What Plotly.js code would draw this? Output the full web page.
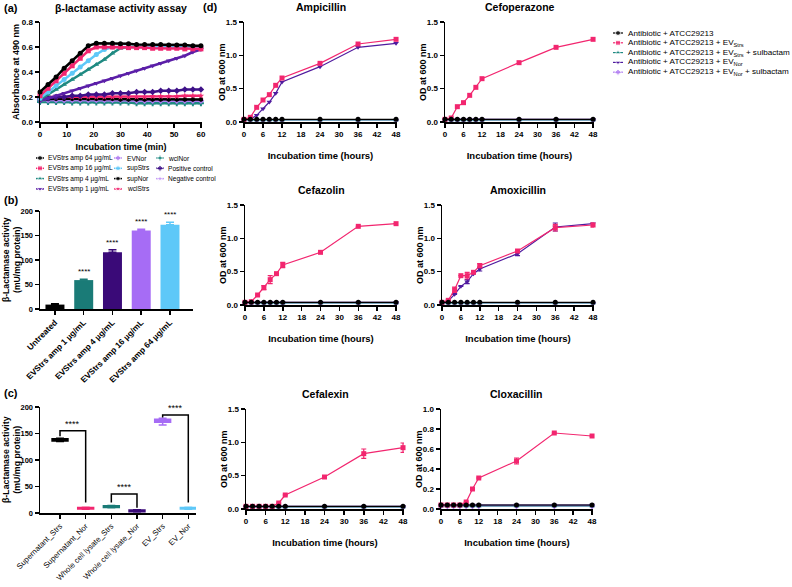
<!DOCTYPE html>
<html><head><meta charset="utf-8">
<script src="https://cdn.plot.ly/plotly-3.0.1.min.js"></script>
<style>html,body{margin:0;padding:0;background:#fff}</style>
</head><body><div id="chart" style="width:792px;height:587px"></div>
<script>
// ================= DATA =================
// Panel (a): beta-lactamase activity assay (absorbance at 490 nm vs time)
const timeMin = [0,3,6,9,12,15,18,21,24,27,30,33,36,39,42,45,48,51,54,57,60];
const evStrs64 = [0.24,0.30,0.36,0.43,0.49,0.55,0.61,0.63,0.63,0.63,0.625,0.625,0.62,0.62,0.62,0.62,0.615,0.615,0.615,0.61,0.61];
const evStrs16 = [0.21,0.27,0.33,0.39,0.45,0.51,0.57,0.60,0.60,0.60,0.60,0.595,0.595,0.595,0.59,0.59,0.59,0.59,0.585,0.585,0.585];
const evStrs4  = [0.18,0.22,0.26,0.30,0.34,0.38,0.42,0.46,0.50,0.55,0.59,0.60,0.60,0.60,0.60,0.60,0.60,0.60,0.60,0.60,0.60];
const evStrs1  = [0.17,0.19,0.21,0.23,0.25,0.27,0.29,0.31,0.33,0.35,0.37,0.39,0.41,0.43,0.45,0.47,0.49,0.51,0.53,0.56,0.58];
const evNor    = [0.175,0.175,0.175,0.175,0.175,0.175,0.175,0.175,0.175,0.175,0.175,0.175,0.17,0.17,0.17,0.17,0.17,0.17,0.17,0.17,0.17];
const supStrs  = [0.19,0.24,0.29,0.34,0.39,0.44,0.49,0.54,0.58,0.60,0.60,0.60,0.60,0.60,0.60,0.60,0.60,0.60,0.60,0.60,0.60];
const supNor   = [0.18,0.185,0.185,0.185,0.185,0.185,0.185,0.185,0.185,0.185,0.18,0.18,0.18,0.18,0.18,0.18,0.18,0.18,0.18,0.18,0.18];
const wclStrs  = [0.20,0.20,0.20,0.20,0.20,0.20,0.20,0.20,0.20,0.20,0.20,0.20,0.20,0.20,0.205,0.205,0.205,0.205,0.21,0.21,0.21];
const wclNor   = [0.16,0.16,0.16,0.16,0.155,0.155,0.155,0.155,0.155,0.155,0.155,0.155,0.15,0.15,0.15,0.15,0.15,0.15,0.15,0.15,0.15];
const posCtrl  = [0.19,0.19,0.20,0.20,0.21,0.21,0.22,0.22,0.22,0.23,0.23,0.23,0.24,0.24,0.24,0.25,0.25,0.25,0.26,0.26,0.26];
const negCtrl  = [0.165,0.165,0.165,0.165,0.165,0.165,0.165,0.165,0.16,0.16,0.16,0.16,0.16,0.16,0.16,0.16,0.16,0.16,0.16,0.16,0.16];
const aNames = ['EVStrs amp 64 µg/mL','EVStrs amp 16 µg/mL','EVStrs amp 4 µg/mL','EVStrs amp 1 µg/mL',
                'EVNor','supStrs','supNor','wclStrs','wclNor','Positive control','Negative control'];

// Panel (b): beta-lactamase activity of EVs
const bCats = ['Untreated','EVStrs amp 1 µg/mL','EVStrs amp 4 µg/mL','EVStrs amp 16 µg/mL','EVStrs amp 64 µg/mL'];
const bVals = [9, 59, 116, 160, 172];
const bErr  = [1.5, 1.5, 5, 3, 5];
const bSig  = ['', '****', '****', '****', '****'];

// Panel (c): beta-lactamase activity by fraction
const cCats = ['Supernatant_Strs','Supernatant_Nor','Whole cell lysate_Strs','Whole cell lysate_Nor','EV_Strs','EV_Nor'];
const cMed = [138, 9, 12, 4, 174, 9];
const cQ1  = [136, 7.5, 10.5, 2.5, 171, 7.5];
const cQ3  = [140, 10.5, 13.5, 5.5, 177, 10.5];
const cLo  = [135, 7, 10, 2, 166, 7];
const cHi  = [141, 11, 14, 6, 179, 11];
const cPairs = [[0,1],[2,3],[4,5]];
const cPairTop = [155, 36, 185];
const cPairLegs = [[145, 20], [20, 10], [180, 20]];

// Panel (d): OD600 growth curves
const timeH = [0,2,4,6,8,10,12,24,36,48];
const dNames = ['Antibiotic + ATCC29213','Antibiotic + ATCC29213 + EV<sub>Strs</sub>',
  'Antibiotic + ATCC29213 + EV<sub>Strs</sub> + sulbactam','Antibiotic + ATCC29213 + EV<sub>Nor</sub>',
  'Antibiotic + ATCC29213 + EV<sub>Nor</sub> + sulbactam'];
const flat04 = [0.04,0.04,0.04,0.04,0.04,0.04,0.04,0.04,0.04,0.04];
const flat03 = [0.03,0.03,0.03,0.03,0.03,0.03,0.03,0.03,0.03,0.03];
const ampStrs = [0.04,0.07,0.22,0.33,0.41,0.55,0.66,0.88,1.17,1.24];
const ampNor  = [0.04,0.04,0.10,0.20,0.30,0.43,0.60,0.83,1.12,1.18];
const cfpStrs = [0.04,0.06,0.23,0.29,0.40,0.52,0.65,0.89,1.12,1.24];
const czoStrs = [0.04,0.05,0.15,0.26,0.38,0.47,0.60,0.79,1.18,1.22];
const czoStrsErr = [0,0,0,0.03,0.06,0,0.04,0,0,0];
const amxStrs = [0.04,0.07,0.23,0.44,0.44,0.49,0.59,0.81,1.16,1.20];
const amxStrsErr = [0,0,0.04,0,0.05,0,0.03,0,0.05,0.03];
const amxNor  = [0.04,0.06,0.16,0.28,0.35,0.47,0.54,0.77,1.17,1.22];
const amxNorErr = [0,0,0,0,0.03,0,0.03,0.03,0.06,0];
const lexStrs = [0.04,0.04,0.04,0.04,0.04,0.09,0.21,0.48,0.83,0.92];
const lexStrsErr = [0,0,0,0,0,0,0,0,0.07,0.07];
const cloStrs = [0.04,0.04,0.04,0.04,0.07,0.20,0.31,0.48,0.76,0.73];
const cloStrsErr = [0,0,0,0,0,0,0,0.03,0,0];

// ================= STYLE / LAYOUT =================
const F = 'Liberation Sans, Arial, sans-serif';
const W = 792, H = 587;
const fx = p => p / W;
const fy = p => 1 - p / H;
const dX = (a,b) => [fx(a), fx(b)];
const dY = (top,bottom) => [fy(bottom), fy(top)];

const BLACK='#000000', PINK='#f2266f', TEAL='#1f8a82', PURPLE='#4f1a9e', LPURPLE='#b07cf2',
      LBLUE='#5ec8f8', DPURPLE='#3a0a78', BAR_LP='#a66cf5', BAR_TEAL='#1a7b77';

const tickF = (s,w) => ({family:F, size:s, color:'#000', weight:w||'bold'});
function axis(extra){
  return Object.assign({showgrid:false, zeroline:false, showline:true, linecolor:'#000', linewidth:1.5,
    ticks:'outside', ticklen:4, tickwidth:1.5, tickcolor:'#000', tickfont:tickF(8), fixedrange:true,
    automargin:false}, extra);
}
const traces = [];
const layout = {width:W, height:H, margin:{l:0,r:0,t:0,b:0}, paper_bgcolor:'#fff', plot_bgcolor:'rgba(0,0,0,0)',
  showlegend:false, font:{family:F, color:'#000'}, annotations:[], shapes:[]};
function ann(o){ layout.annotations.push(Object.assign({showarrow:false, xanchor:'center', yanchor:'middle',
  font:{family:F, size:9, color:'#000'}}, o)); }
function yTitle(text, xPx, topPx, botPx, size){
  ann({text:'<b>'+text+'</b>', x:fx(xPx), y:fy((topPx+botPx)/2), xref:'paper', yref:'paper', textangle:-90,
    font:{family:F, size:size||9, color:'#000'}});
}

// ---- Panel (a) ----
layout.xaxis = axis({domain:dX(40,202), anchor:'y', range:[0,60.4], tickvals:[0,10,20,30,40,50,60],
  title:{text:'Incubation time (min)', font:tickF(9), standoff:5}});
layout.yaxis = axis({domain:dY(22,122), anchor:'x', range:[0,0.8], dtick:0.2, tickformat:'.1f'});
yTitle('Absorbance at 490 nm', 16, 22, 122);
const aSeries = [
  {y:evStrs64, c:BLACK, s:'circle'}, {y:evStrs16, c:PINK, s:'square'}, {y:evStrs4, c:TEAL, s:'triangle-up'},
  {y:evStrs1, c:'#5b1fa8', s:'triangle-down'}, {y:evNor, c:LPURPLE, s:'diamond'}, {y:supStrs, c:LBLUE, s:'circle'},
  {y:supNor, c:BLACK, s:'hexagon'}, {y:wclStrs, c:PINK, s:'star'}, {y:wclNor, c:TEAL, s:'cross'},
  {y:posCtrl, c:'#3e1188', s:'diamond'}, {y:negCtrl, c:'#c59cf7', s:'star'}];
const aOrder = [10,8,4,6,7,9,3,2,5,1,0];
aOrder.forEach(i => {
  const s = aSeries[i];
  traces.push({type:'scatter', mode:'lines+markers', x:timeMin, y:s.y, xaxis:'x', yaxis:'y',
    line:{color:s.c, width:2.5}, marker:{color:s.c, symbol:s.s, size:5}, cliponaxis:false, hoverinfo:'skip'});
});
ann({text:'<b>β-lactamase activity assay</b>', x:fx(121), y:fy(8), xref:'paper', yref:'paper', font:{family:F,size:10.5,color:'#000'}});

// ---- Panel (b) ----
layout.xaxis2 = axis({domain:dX(40,193), anchor:'y2', range:[-0.52,4.8], tickvals:[0,1,2,3,4], ticktext:bCats,
  tickangle:-45, tickfont:tickF(8.3)});
layout.yaxis2 = axis({domain:dY(211,309), anchor:'x2', range:[0,200], dtick:50, tickfont:tickF(7.5)});
yTitle('β-Lactamase activity<br>(mU/mg protein)', 11, 211, 309, 8.6);
const bColors = [BLACK, BAR_TEAL, DPURPLE, BAR_LP, LBLUE];
bVals.forEach((v,i) => {
  traces.push({type:'bar', x:[i], y:[v], width:0.66, xaxis:'x2', yaxis:'y2', marker:{color:bColors[i], line:{width:0}},
    error_y:{type:'data', symmetric:false, array:[bErr[i]], arrayminus:[0], color:bColors[i], thickness:1.5, width:4},
    hoverinfo:'skip'});
  if (bSig[i]) ann({text:bSig[i], x:i, y:v+bErr[i], xref:'x2', yref:'y2', yanchor:'bottom', yshift:1,
    font:{family:F, size:8, color:'#000'}});
});

// ---- Panel (c) ----
layout.xaxis3 = axis({domain:dX(40,196), anchor:'y3', range:[-0.78,5.3], tickvals:[0,1,2,3,4,5], ticktext:cCats,
  tickangle:-45, tickfont:tickF(7.8,'normal')});
layout.yaxis3 = axis({domain:dY(407,513), anchor:'x3', range:[0,200], dtick:50, tickfont:tickF(7.5)});
yTitle('β-Lactamase activity<br>(mU/mg protein)', 11, 407, 513, 8.8);
const cColors = [BLACK, PINK, BAR_TEAL, DPURPLE, BAR_LP, LBLUE];
cCats.forEach((c,i) => {
  traces.push({type:'box', x:[i], q1:[cQ1[i]], median:[cMed[i]], q3:[cQ3[i]], lowerfence:[cLo[i]], upperfence:[cHi[i]],
    xaxis:'x3', yaxis:'y3', fillcolor:cColors[i], line:{color:cColors[i], width:1.5}, width:0.62, whiskerwidth:0.5,
    hoverinfo:'skip', boxpoints:false});
});
cPairs.forEach((p,k) => {
  const [a,b] = p, top = cPairTop[k], [la, lb] = cPairLegs[k];
  layout.shapes.push({type:'path', xref:'x3', yref:'y3', path:`M ${a},${la} L ${a},${top} L ${b},${top} L ${b},${lb}`,
    line:{color:'#000', width:1.5}});
  ann({text:'****', x:(a+b)/2, y:top, xref:'x3', yref:'y3', yanchor:'bottom', yshift:0, font:{family:F,size:9,color:'#000'}});
});

// ---- Panel (d) ----
const dPanels = [
  {title:'Ampicillin', dx:[244,397], dy:[22,122], ymax:1.5, dt:0.5,
   s:[[flat04,null],[ampStrs,null],[flat03,null],[ampNor,null],[flat03,null]]},
  {title:'Cefoperazone', dx:[445,594], dy:[22,122], ymax:1.5, dt:0.5,
   s:[[flat04,null],[cfpStrs,null],[flat03,null],[flat04,null],[flat03,null]]},
  {title:'Cefazolin', dx:[245,397], dy:[205,305], ymax:1.5, dt:0.5,
   s:[[flat04,null],[czoStrs,czoStrsErr],[flat03,null],[flat04,null],[flat03,null]]},
  {title:'Amoxicillin', dx:[442,594], dy:[205,305], ymax:1.5, dt:0.5,
   s:[[flat04,null],[amxStrs,amxStrsErr],[flat03,null],[amxNor,amxNorErr],[flat03,null]]},
  {title:'Cefalexin', dx:[246,404], dy:[409,509], ymax:1.5, dt:0.5,
   s:[[flat04,null],[lexStrs,lexStrsErr],[flat03,null],[flat04,null],[flat03,null]]},
  {title:'Cloxacillin', dx:[441,593], dy:[409,509], ymax:1.0, dt:0.2,
   s:[[flat04,null],[cloStrs,cloStrsErr],[flat03,null],[flat04,null],[flat03,null]]},
];
const dStyle = [{c:BLACK,s:'circle'},{c:PINK,s:'square'},{c:TEAL,s:'triangle-up'},{c:PURPLE,s:'triangle-down'},{c:LPURPLE,s:'diamond'}];
const dOrder = [4,2,3,1,0];
dPanels.forEach((p,k) => {
  const n = k+4, xa = 'x'+n, ya = 'y'+n;
  layout['xaxis'+n] = axis({domain:dX(p.dx[0],p.dx[1]), anchor:ya, range:[0,48.3], tickvals:[0,6,12,18,24,30,36,42,48],
    title:{text:'Incubation time (hours)', font:tickF(9.5), standoff:14}});
  layout['yaxis'+n] = axis({domain:dY(p.dy[0],p.dy[1]), anchor:xa, range:[0,p.ymax], dtick:p.dt, tickformat:'.1f'});
  yTitle('OD at 600 nm', p.dx[0]-22, p.dy[0], p.dy[1]);
  ann({text:'<b>'+p.title+'</b>', x:(fx(p.dx[0])+fx(p.dx[1]))/2, y:fy(p.dy[0]-15), xref:'paper', yref:'paper',
    font:{family:F,size:10.5,color:'#000'}});
  dOrder.forEach(j => {
    const [yv, ev] = p.s[j], st = dStyle[j];
    const t = {type:'scatter', mode:'lines+markers', x:timeH, y:yv, xaxis:xa, yaxis:ya, cliponaxis:false,
      line:{color:st.c, width:1.2}, marker:{color:st.c, symbol:st.s, size:5}, hoverinfo:'skip'};
    if (ev) t.error_y = {type:'data', array:ev, color:st.c, thickness:1.2, width:2.5};
    traces.push(t);
  });
});

// ---- custom legends (keys drawn on an invisible full-page axis) ----
layout.xaxis10 = {domain:[0,1], range:[0,W], visible:false, fixedrange:true, anchor:'y10'};
layout.yaxis10 = {domain:[0,1], range:[H,0], visible:false, fixedrange:true, anchor:'x10'};
function legendKey(xc, yc, half, c, sym, size, lw){
  traces.push({type:'scatter', mode:'lines+markers', x:[xc-half, xc, xc+half], y:[yc,yc,yc], xaxis:'x10', yaxis:'y10',
    line:{color:c, width:lw}, marker:{color:c, symbol:sym, size:[0,size,0]}, hoverinfo:'skip', cliponaxis:false});
}
// legend (a): 3 columns, column-major
const aCols = [{kx:40, tx:46, items:[0,1,2,3]}, {kx:118, tx:125, items:[4,5,6,7]}, {kx:160, tx:166, items:[8,9,10]}];
const aRow0 = 158, aRowH = 10.3;
aCols.forEach(col => col.items.forEach((idx, r) => {
  const yc = aRow0 + r*aRowH, s = aSeries[idx];
  legendKey(col.kx, yc, 4, s.c, s.s, 5, 1.5);
  ann({text:aNames[idx], x:fx(col.tx), y:fy(yc), xref:'paper', yref:'paper', xanchor:'left', yanchor:'middle',
    font:{family:F, size:6.6, color:'#000'}});
}));
// legend (d)
const dRow0 = 33, dRowH = 9.8;
dNames.forEach((nm, r) => {
  const yc = dRow0 + r*dRowH, st = dStyle[r];
  legendKey(618, yc, 5, st.c, st.s, 5, 1.2);
  ann({text:nm, x:fx(626), y:fy(yc), xref:'paper', yref:'paper', xanchor:'left', yanchor:'middle',
    font:{family:F, size:8.1, color:'#000'}});
});

// panel letters
[['(a)',2,8],['(b)',2,200],['(c)',2,393],['(d)',201,7]].forEach(([t,x,y]) =>
  ann({text:'<b>'+t+'</b>', x:fx(x), y:fy(y), xref:'paper', yref:'paper', xanchor:'left', yanchor:'middle',
       font:{family:F, size:11, color:'#000'}}));

Plotly.newPlot('chart', traces, layout, {staticPlot:true, displayModeBar:false});
</script></body></html>
